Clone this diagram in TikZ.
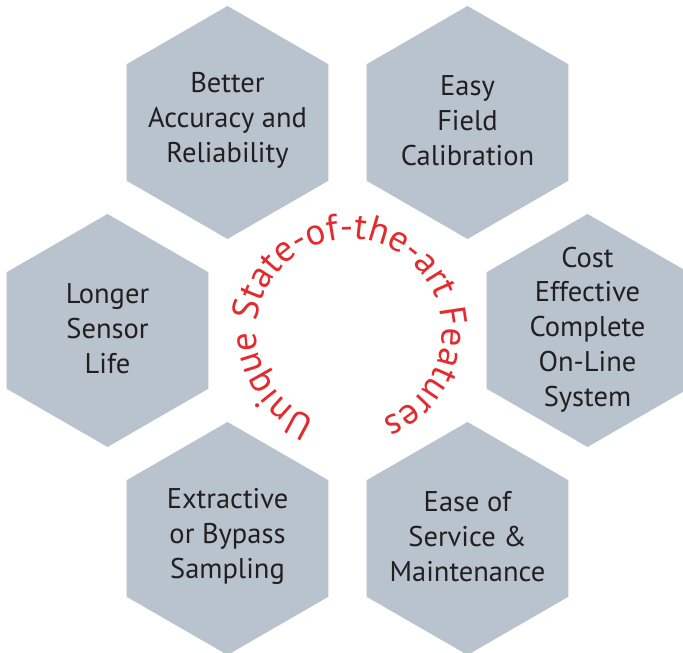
\documentclass[tikz,border=0pt]{standalone}
\usepackage{fontspec}
\setmainfont{PT Sans}
\usetikzlibrary{shapes.geometric,decorations.text}
\definecolor{hexfill}{HTML}{B8C3CE}
\definecolor{featred}{HTML}{E52A2E}
\definecolor{txtcol}{HTML}{231F20}
\begin{document}
\begin{tikzpicture}[x=1pt,y=1pt,
  hexa/.style={regular polygon, regular polygon sides=6, shape border rotate=30,
    minimum size=233pt, inner sep=0pt, outer sep=0pt, fill=hexfill, draw=none},
  hextext/.style={align=center, text=txtcol, inner sep=0pt,
    font=\fontsize{28.5}{34.8}\selectfont}]
\useasboundingbox (0,0) rectangle (683,653);
\clip (0,0) rectangle (683,653);
\node[hexa] (h1) at (227.5,530.5) {};
\node[hexa] (h2) at (467.5,530.5) {};
\node[hexa] (h3) at (107.5,322.5) {};
\node[hexa] (h4) at (587.5,322.5) {};
\node[hexa] (h5) at (227.5,114.5) {};
\node[hexa] (h6) at (467.5,114.5) {};
\node[hextext] (t1) at ([yshift=2pt]h1.center) {Better\\Accuracy and\\Reliability};
\node[hextext] (t2) at ([yshift=2pt]h2.center) {Easy\\Field\\Calibration};
\node[hextext] (t3) at ([yshift=2pt]h3.center) {Longer\\Sensor\\Life};
\node[hextext] (t4) at ([yshift=1pt]h4.center) {Cost\\Effective\\Complete\\On-Line\\System};
\node[hextext] (t5) at ([yshift=2pt]h5.center) {Extractive\\or Bypass\\Sampling};
\node[hextext] (t6) at ([yshift=2pt]h6.center) {Ease of\\Service \&\\Maintenance};
\coordinate (ctr) at (349,321);
\path[decorate, decoration={text along path, text align=center, text color=featred,
  text={|\fontsize{37}{40}\selectfont|Unique State-of-the-art Features}}]
  (ctr) ++(248:93) arc[start angle=248, end angle=-68, radius=93];
\end{tikzpicture}
\end{document}
